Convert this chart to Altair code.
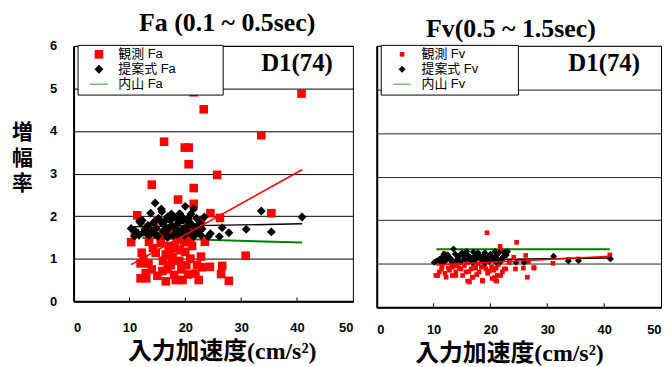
import altair as alt
import pandas as pd

# ---------------- Fa panel data ----------------
fa_obs_x = [21.5, 40.8, 23.3, 33.6, 16.2, 19.9, 20.6, 20.6, 25.7, 14.0, 21.5, 18.7, 21.5, 11.4, 15.0,
            24.5, 26.2, 35.4, 30.8, 10.3, 13.5, 15.6, 12.2, 14.7, 12.0, 13.4, 16.5, 18.1, 17.7, 20.0,
            20.9, 20.2, 18.9, 17.4, 22.1, 24.4, 26.6, 26.4, 27.8, 22.4, 12.0, 13.0, 12.9, 15.0, 15.9,
            16.5, 18.3, 18.0, 20.5, 15.5, 19.8, 20.9, 22.8, 17.0, 18.5, 19.0, 21.2, 11.0, 14.2, 16.0,
            19.3, 21.0, 17.5, 12.5, 23.5, 16.8, 19.5, 21.8, 14.0, 20.5, 17.2, 22.8, 23.0, 13.8]
fa_obs_y = [4.91, 4.88, 4.51, 3.90, 3.75, 3.61, 3.61, 3.22, 2.97, 2.74, 2.66, 2.39, 2.29, 2.02, 1.90,
            2.07, 1.96, 2.07, 1.07, 1.39, 1.40, 1.37, 1.14, 1.14, 0.89, 0.89, 1.10, 1.25, 1.04, 1.16,
            1.00, 0.85, 0.95, 0.85, 0.85, 0.81, 0.83, 0.64, 0.48, 0.50, 0.54, 0.54, 0.66, 0.60, 0.71,
            0.47, 0.50, 0.62, 0.63, 1.53, 1.39, 1.47, 1.90, 1.30, 1.45, 1.20, 1.30, 1.60, 1.25, 0.95,
            0.75, 1.70, 1.65, 1.00, 1.40, 0.75, 0.50, 0.65, 0.75, 1.85, 1.10, 1.05, 0.80, 1.70]
fa_pro_x = [14.6, 13.8, 15.8, 20.0, 21.5, 33.6, 40.9, 35.4, 30.9, 27.8, 26.6, 24.5, 22.4, 23.4, 22.6,
            19.0, 18.4, 16.8, 12.3, 12.0, 10.3, 11.3, 10.9, 13.0, 13.3, 14.8, 15.1, 17.6, 18.5, 19.1,
            20.3, 20.9, 21.5, 17.0, 18.0, 16.1, 19.6, 26.1, 24.1, 15.7, 11.8, 11.7, 14.0, 16.5, 17.8,
            19.5, 20.5, 21.0, 22.0, 18.8, 17.3, 15.5, 14.3, 12.8, 13.5, 16.0, 18.2, 19.8, 20.8, 22.0,
            21.8, 23.0, 16.8, 15.2, 19.3, 17.5, 20.2, 18.7, 12.5, 14.5, 21.3, 16.3, 11.0, 22.8]
fa_pro_y = [2.31, 2.07, 2.11, 2.23, 2.17, 2.12, 1.98, 1.63, 1.69, 1.61, 1.73, 1.59, 1.63, 1.98, 1.84,
            2.06, 1.95, 1.98, 1.90, 1.84, 1.71, 1.60, 1.53, 1.60, 1.78, 1.71, 1.53, 1.78, 1.66, 1.60,
            1.75, 1.60, 1.52, 1.71, 1.98, 1.80, 1.90, 1.52, 1.52, 2.17, 1.88, 1.55, 1.65, 1.60, 1.55,
            1.70, 1.95, 2.05, 1.75, 1.85, 1.90, 1.90, 1.85, 1.70, 1.55, 1.65, 1.75, 1.55, 1.85, 1.95,
            1.60, 1.70, 1.50, 1.95, 2.00, 2.05, 1.65, 1.55, 1.62, 1.58, 1.78, 1.88, 1.65, 1.55]
fa_red_x, fa_red_y = [10.3, 40.9], [0.86, 3.09]
fa_blk_x, fa_blk_y = [10.3, 40.9], [1.75, 1.82]
fa_grn_x, fa_grn_y = [12.3, 40.9], [1.49, 1.38]

# ---------------- Fv panel data ----------------
fv_obs_x = [19.4, 24.6, 21.7, 26.2, 41.0, 26.5, 27.7, 24.4, 31.0, 33.7, 10.4, 12.2, 16.0, 18.6, 21.1,
            20.7, 16.9, 13.9, 11.9, 10.7, 13.3, 13.3, 15.1, 16.8, 16.3, 18.6, 20.3, 21.2, 20.9, 22.7,
            19.2, 17.4, 14.5, 12.6, 13.9, 15.7, 18.0, 19.8, 22.1, 23.3, 21.8, 11.0, 13.1, 24.1, 26.7,
            22.4, 25.8, 27.6, 35.4, 21.8, 22.1, 11.5, 12.8, 14.2, 15.4, 16.6, 17.8, 19.0, 20.2, 21.4,
            12.0, 14.8, 17.0, 19.5, 21.0, 15.9, 18.4, 20.6, 13.6, 16.2, 18.9, 11.4, 14.0, 17.6]
fv_obs_y = [1.71, 1.49, 1.40, 1.19, 1.20, 0.69, 0.90, 0.88, 1.01, 1.10, 0.73, 0.69, 0.60, 0.60, 0.60,
            0.68, 0.69, 0.73, 1.23, 0.73, 0.73, 0.92, 0.73, 0.69, 0.58, 0.62, 0.66, 0.73, 0.62, 0.88,
            0.88, 0.90, 0.90, 0.90, 0.81, 0.81, 0.81, 0.83, 0.81, 1.03, 1.30, 0.81, 1.03, 1.15, 1.05,
            0.88, 0.90, 0.91, 1.11, 0.73, 1.11, 0.95, 0.85, 1.00, 0.95, 0.88, 1.00, 0.95, 0.92, 0.98,
            0.78, 0.88, 0.98, 0.78, 0.90, 1.02, 0.92, 0.85, 0.98, 0.82, 1.00, 0.88, 0.95, 0.75]
fv_pro_x = [10.1, 13.5, 31.1, 33.7, 35.5, 41.1, 25.9, 22.4, 11.0, 11.5, 12.0, 12.5, 13.0, 14.0, 14.5,
            15.0, 15.5, 16.0, 16.5, 17.0, 17.5, 18.0, 18.5, 19.0, 19.5, 20.0, 20.5, 21.0, 21.5, 22.0,
            22.8, 23.0, 10.5, 11.8, 12.8, 13.8, 14.8, 15.8, 16.8, 17.8, 18.8, 19.8, 20.8, 21.8, 12.3,
            14.3, 16.3, 18.3, 20.3, 22.3, 15.3, 17.3, 19.3, 21.3, 24.5, 13.3, 11.3, 17.0, 19.0, 21.0]
fv_pro_y = [1.03, 1.34, 1.17, 1.06, 1.07, 1.11, 1.03, 1.26, 1.10, 1.15, 1.05, 1.20, 1.12, 1.08, 1.18,
            1.25, 1.10, 1.20, 1.15, 1.27, 1.12, 1.20, 1.08, 1.25, 1.15, 1.22, 1.10, 1.18, 1.25, 1.12,
            1.20, 1.28, 1.06, 1.22, 1.10, 1.22, 1.05, 1.28, 1.05, 1.25, 1.18, 1.05, 1.28, 1.05, 1.15,
            1.13, 1.10, 1.13, 1.16, 1.16, 1.17, 1.18, 1.12, 1.10, 1.03, 1.03, 1.03, 1.05, 1.02, 1.03]
fv_red_x, fv_red_y = [10.5, 41.0], [0.97, 1.17]
fv_blk_x, fv_blk_y = [10.5, 41.0], [1.08, 1.13]
fv_grn_x, fv_grn_y = [10.5, 41.0], [1.33, 1.33]

x_ticks = [0, 10, 20, 30, 40, 50]
inner_ticks = [10, 20, 30, 40]
y_ticks = [0, 1, 2, 3, 4, 5, 6]
panel_tag = "D1(74)"

SERIF = "Liberation Serif, Noto Sans CJK JP"
SANS = "Liberation Sans, Noto Sans CJK JP"
LINE_PATH = "M-2,-0.09H2V0.09H-2Z"
X_TITLE = "入力加速度(cm/s²)"


def panel(obs_x, obs_y, pro_x, pro_y, rx, ry, bx, by, gx, gy, names, sizes, title,
          width, height, show_y, title_offset, title_dx, legend_pad, x_title_x, x_title_y,
          x_label_pad):
    pts = pd.DataFrame({
        "x": obs_x + pro_x,
        "y": obs_y + pro_y,
        "kind": [names[0]] * len(obs_x) + [names[1]] * len(pro_x),
    })
    xs = alt.Scale(domain=[0, 50], nice=False, zero=False)
    ys = alt.Scale(domain=[0, 6], nice=False, zero=False)

    if show_y:
        yaxis = alt.Axis(values=y_ticks, title=["増", "幅", "率"], titleAngle=0,
                         titleFont="Noto Sans CJK JP", titleFontSize=21, titleFontWeight="bold",
                         titleLineHeight=26, titleX=-52, titleY=76, titleAlign="center",
                         titleBaseline="top", labelFont="Liberation Sans", labelFontWeight="bold",
                         labelFontSize=13, labelColor="black", labelPadding=17, ticks=False,
                         grid=True, gridColor="black", gridWidth=1, domainColor="black",
                         domainWidth=2)
    else:
        yaxis = alt.Axis(values=y_ticks, title=None, labels=False, ticks=False, grid=True,
                         gridColor="#222222", gridWidth=1, domainColor="black", domainWidth=2)

    xaxis = alt.Axis(values=x_ticks, title=X_TITLE, titleFont=SERIF, titleFontSize=24,
                     titleFontWeight="bold", titleColor="black", titleX=x_title_x,
                     titleY=x_title_y, titleAlign="center", titleBaseline="middle",
                     labelFont="Liberation Sans", labelFontWeight="bold", labelFontSize=13,
                     labelColor="black", labelPadding=x_label_pad, ticks=False, grid=False,
                     domainColor="black", domainWidth=2)

    base = alt.Chart(pts)
    pad = "\u00a0" * legend_pad + "\u200b"
    points = base.mark_point(filled=True, opacity=1, strokeWidth=0).encode(
        x=alt.X("x:Q", scale=xs, axis=xaxis),
        y=alt.Y("y:Q", scale=ys, axis=yaxis),
        color=alt.Color("kind:N", scale=alt.Scale(domain=names, range=["#ff0000", "#000000", "#008000"]),
                        legend=alt.Legend(title=None, orient="none", legendX=4, legendY=-1,
                                          strokeColor="black", fillColor="white", padding=3,
                                          rowPadding=1, labelFont=SANS, labelFontSize=13,
                                          labelColor="black", labelOffset=13, symbolOffset=12,
                                          labelExpr="datum.label + '" + pad + "'")),
        shape=alt.Shape("kind:N", scale=alt.Scale(domain=names, range=["square", "diamond", LINE_PATH])),
        size=alt.Size("kind:N", scale=alt.Scale(domain=names, range=sizes)),
    )

    def line(lx, ly, col, w):
        return alt.Chart(pd.DataFrame({"x": lx, "y": ly})).mark_line(color=col, strokeWidth=w).encode(
            x=alt.X("x:Q", scale=xs), y=alt.Y("y:Q", scale=ys))

    ticks = alt.Chart(pd.DataFrame({"t": inner_ticks})).mark_rule(color="black", strokeWidth=1).encode(
        x=alt.X("t:Q", scale=xs), y=alt.datum(0), y2=alt.datum(0.09))

    tag = alt.Chart(pd.DataFrame({"x": [40], "y": [5.6], "t": [panel_tag]})).mark_text(
        font="Liberation Serif", fontSize=25, fontWeight="bold", color="black",
        align="center", baseline="middle").encode(
        x=alt.X("x:Q", scale=xs), y=alt.Y("y:Q", scale=ys), text="t:N")

    return alt.layer(
        line(gx, gy, "#008000", 2), line(bx, by, "#000000", 1.5), points, line(rx, ry, "#ff0000", 1.5),
        ticks, tag
    ).properties(
        width=width, height=height,
        title=alt.TitleParams(title, font="Liberation Serif", fontSize=26, fontWeight="bold",
                              color="black", offset=title_offset, anchor="middle", frame="group",
                              dx=title_dx),
    )


left = panel(fa_obs_x, fa_obs_y, fa_pro_x, fa_pro_y, fa_red_x, fa_red_y, fa_blk_x, fa_blk_y,
             fa_grn_x, fa_grn_y, ["観測 Fa", "提案式 Fa", "内山 Fa"], [75, 85, 144],
             "Fa (0.1 ~ 0.5sec)", 281, 257, True, 4, 14, 12, 149, 51, 20)
right = panel(fv_obs_x, fv_obs_y, fv_pro_x, fv_pro_y, fv_red_x, fv_red_y, fv_blk_x, fv_blk_y,
              fv_grn_x, fv_grn_y, ["観測 Fv", "提案式 Fv", "内山 Fv"], [22, 75, 144],
              "Fv(0.5 ~ 1.5sec)", 286, 263, False, 2, -8, 10, 133, 47, 16)

chart = alt.hconcat(left, right, spacing=22).resolve_scale(
    color="independent", shape="independent", size="independent", x="independent", y="independent"
).properties(
    padding={"left": 3, "top": 0, "right": 0, "bottom": 0}
).configure_view(stroke="black", strokeWidth=1)

chart.save("out.html", embed_options={"renderer": "svg", "actions": False})
